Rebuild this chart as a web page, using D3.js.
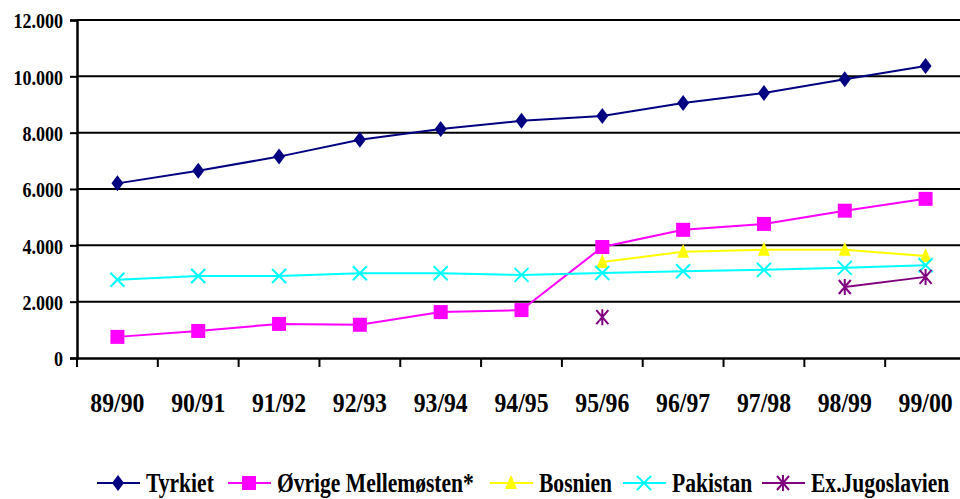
<!DOCTYPE html>
<html>
<head>
<meta charset="utf-8">
<script src="https://cdn.jsdelivr.net/npm/d3@7"></script>
<style>
  body { margin: 0; background: #fff; }
</style>
</head>
<body>
<div id="chart"></div>
<script>
// Chart data
var years = ["89/90", "90/91", "91/92", "92/93", "93/94", "94/95", "95/96", "96/97", "97/98", "98/99", "99/00"];
var yTicks = [0, 2000, 4000, 6000, 8000, 10000, 12000];

var tyrkiet = [6200, 6650, 7150, 7750, 8130, 8420, 8590, 9050, 9410, 9900, 10370];
var mellemosten = [750, 960, 1210, 1180, 1630, 1700, 3940, 4550, 4760, 5230, 5650];
var bosnien = [null, null, null, null, null, null, 3410, 3770, 3840, 3840, 3620];
var pakistan = [2780, 2910, 2910, 3010, 3010, 2950, 3020, 3080, 3130, 3200, 3290];
var exJugo = [null, null, null, null, null, null, 1450, null, null, 2520, 2880];

var series = [
    {name: "Tyrkiet", values: tyrkiet, color: "#000080", symbol: "diamond"},
    {name: "Øvrige Mellemøsten*", values: mellemosten, color: "#FF00FF", symbol: "square"},
    {name: "Bosnien", values: bosnien, color: "#FFFF00", symbol: "triangle"},
    {name: "Pakistan", values: pakistan, color: "#00FFFF", symbol: "cross"},
    {name: "Ex.Jugoslavien", values: exJugo, color: "#800080", symbol: "star"}
];

var FONT = "'Liberation Serif', 'Times New Roman', serif";

var svgWidth = 960;
var svgHeight = 499;
var margin = {top: 20, left: 77};
var plotRight = 966;
var plotBottom = 358;

var svg = d3.select("#chart")
    .append("svg")
    .attr("width", svgWidth)
    .attr("height", svgHeight);

var x = d3.scaleBand()
    .domain(years)
    .range([margin.left, plotRight]);

var y = d3.scaleLinear()
    .domain([0, 12000])
    .range([plotBottom, margin.top]);

var fmt = d => d === 0 ? "0" : d3.format(",")(d).replace(",", ".");

// Gridlines
svg.append("g")
    .selectAll("line")
    .data(yTicks.filter(d => d > 0))
    .enter()
    .append("line")
    .attr("x1", margin.left)
    .attr("x2", plotRight)
    .attr("y1", d => y(d))
    .attr("y2", d => y(d))
    .attr("stroke", "#000")
    .attr("stroke-width", 2);

// Y axis
var yAxis = svg.append("g")
    .attr("transform", `translate(${margin.left},0)`)
    .call(d3.axisLeft(y).tickValues(yTicks).tickFormat(fmt).tickSize(7));
yAxis.attr("font-family", null);
yAxis.select(".domain").attr("stroke-width", 2.5);
yAxis.selectAll(".tick line").attr("stroke-width", 2);
yAxis.selectAll("text")
    .attr("x", 0)
    .attr("dy", "0.35em")
    .attr("transform", "translate(-14,0) scale(0.82,1)")
    .attr("font-family", FONT)
    .attr("font-weight", "bold")
    .attr("font-size", 22)
    .attr("fill", "#000");

// X axis
var xAxis = svg.append("g")
    .attr("transform", `translate(0,${plotBottom})`)
    .call(d3.axisBottom(x).tickSize(0));
xAxis.attr("font-family", null);
xAxis.select(".domain").attr("stroke-width", 2.5);
xAxis.selectAll("text")
    .attr("y", 0)
    .attr("dy", 0)
    .attr("transform", "translate(0,54) scale(0.88,1)")
    .attr("font-family", FONT)
    .attr("font-weight", "bold")
    .attr("font-size", 27)
    .attr("fill", "#000");

// Category boundary ticks
svg.append("g")
    .selectAll("line")
    .data(years)
    .enter()
    .append("line")
    .attr("x1", d => x(d))
    .attr("x2", d => x(d))
    .attr("y1", plotBottom)
    .attr("y2", plotBottom + 9)
    .attr("stroke", "#000")
    .attr("stroke-width", 2);

// Marker shapes
function marker(g, symbol, color) {
    if (symbol === "diamond") {
        g.append("path").attr("d", "M0,-8L6,0L0,8L-6,0Z").attr("fill", color);
    } else if (symbol === "square") {
        g.append("rect").attr("x", -7).attr("y", -7).attr("width", 14).attr("height", 14).attr("fill", color);
    } else if (symbol === "triangle") {
        g.append("path").attr("d", "M0,-8L6,6L-6,6Z").attr("fill", color);
    } else if (symbol === "cross") {
        g.append("path").attr("d", "M-7,-7L7,7M7,-7L-7,7").attr("stroke", color).attr("stroke-width", 2);
    } else if (symbol === "star") {
        g.append("path").attr("d", "M-6,-7L6,7M6,-7L-6,7M0,-8L0,8").attr("stroke", color).attr("stroke-width", 2);
    }
}

var line = d3.line()
    .defined(d => d !== null)
    .x((d, i) => x(years[i]) + x.bandwidth() / 2)
    .y(d => y(d));

series.forEach(s => {
    svg.append("path")
        .attr("d", line(s.values))
        .attr("fill", "none")
        .attr("stroke", s.color)
        .attr("stroke-width", 2);
});

series.forEach(s => {
    s.values.forEach((v, i) => {
        if (v === null) return;
        var g = svg.append("g")
            .attr("transform", `translate(${x(years[i]) + x.bandwidth() / 2},${y(v)})`);
        marker(g, s.symbol, s.color);
    });
});

// Legend
var legendX = [97, 228, 490, 623, 762];
var legend = svg.append("g").attr("transform", "translate(0,483)");
series.forEach((s, i) => {
    var g = legend.append("g").attr("transform", `translate(${legendX[i]},0)`);
    g.append("line")
        .attr("x1", 0).attr("x2", 43)
        .attr("stroke", s.color).attr("stroke-width", 2);
    var m = g.append("g").attr("transform", "translate(21,0)");
    marker(m, s.symbol, s.color);
    g.append("text")
        .attr("transform", "translate(49,9) scale(0.77,1)")
        .attr("font-family", FONT)
        .attr("font-weight", "bold")
        .attr("font-size", 28)
        .attr("fill", "#000")
        .text(s.name);
});
</script>
</body>
</html>
